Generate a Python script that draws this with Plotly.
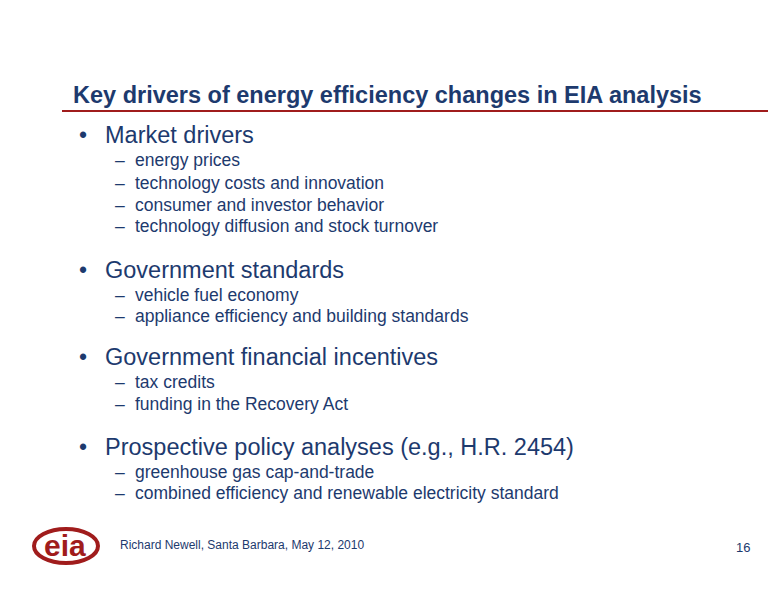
import plotly.graph_objects as go

title = "Key drivers of energy efficiency changes in EIA analysis"
bullets = ["Market drivers", "Government standards", "Government financial incentives",
           "Prospective policy analyses (e.g., H.R. 2454)"]
bullet_y = [135, 270, 357, 447]
subs = [["energy prices", "technology costs and innovation", "consumer and investor behavior",
         "technology diffusion and stock turnover"],
        ["vehicle fuel economy", "appliance efficiency and building standards"],
        ["tax credits", "funding in the Recovery Act"],
        ["greenhouse gas cap-and-trade", "combined efficiency and renewable electricity standard"]]
sub_y = [[160, 183, 205, 226], [295, 316], [382, 404], [472, 493]]
footer = "Richard Newell, Santa Barbara, May 12, 2010"
page = "16"

C = "#1d3a6e"
F = "Liberation Sans, Arial, sans-serif"
fig = go.Figure()
ann = []
def t(x, y, s, size, bold=False, color=C, anchor="left"):
    ann.append(dict(x=x, y=y, text=f"<b>{s}</b>" if bold else s, showarrow=False,
                    xanchor=anchor, yanchor="middle", font=dict(family=F, size=size, color=color)))

t(71, 95, title, 23.5, bold=True)
for b, by, ss, sy in zip(bullets, bullet_y, subs, sub_y):
    t(77, by, "•", 23)
    t(103, by, b, 23.5)
    for s, y in zip(ss, sy):
        t(113, y, "–", 17.5)
        t(133, y, s, 17.5)
t(118, 545, footer, 12)
t(752, 547, page, 13, anchor="right")
t(65, 545, "<b>eia</b>", 30, color="#a01c1c", anchor="center")

shapes = [dict(type="line", x0=62, x1=780, y0=111, y1=111, line=dict(color="#a01c1c", width=2)),
          dict(type="circle", x0=34, x1=98, y0=529, y1=563, line=dict(color="#a01c1c", width=4))]
fig.update_layout(width=776, height=600, margin=dict(l=0, r=0, t=0, b=0),
                  paper_bgcolor="white", plot_bgcolor="white",
                  xaxis=dict(range=[8, 784], visible=False, fixedrange=True),
                  yaxis=dict(range=[608, 8], visible=False, fixedrange=True),
                  annotations=ann, shapes=shapes, showlegend=False)
fig.write_html("out.html")
